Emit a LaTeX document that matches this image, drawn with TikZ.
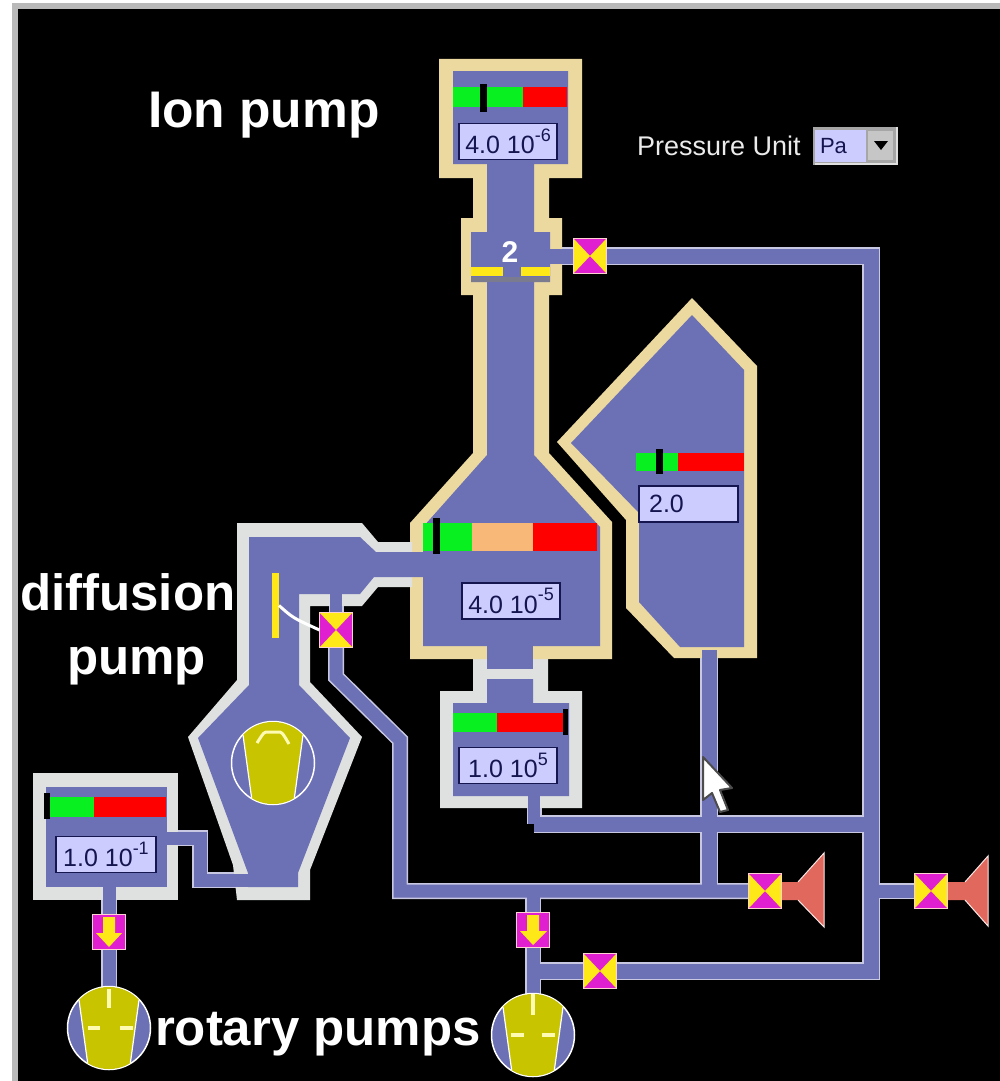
\documentclass[tikz,border=0pt]{standalone}
\usepackage{fontspec}
\setmainfont{Liberation Sans}
\pgfdeclarelayer{bg}
\pgfdeclarelayer{pedge}
\pgfdeclarelayer{chamber}
\pgfdeclarelayer{pcore}
\pgfsetlayers{bg,pedge,chamber,pcore,main}
\definecolor{vac}{HTML}{6C70B4}
\definecolor{tan}{HTML}{ECD9A0}
\definecolor{lite}{HTML}{DFE1E0}
\definecolor{pedgec}{HTML}{C8C8E2}
\definecolor{valbg}{HTML}{CCCCFF}
\definecolor{navy}{HTML}{15154F}
\definecolor{mag}{HTML}{E020D0}
\definecolor{yel}{HTML}{FFE818}
\definecolor{grn}{HTML}{08F020}
\definecolor{org}{HTML}{F8B878}
\definecolor{horn}{HTML}{E0685C}
\definecolor{rot}{HTML}{C8C400}
\newcommand{\pipe}[2]{%
  \begin{pgfonlayer}{pedge}\draw[pedgec,line width=#1pt+3pt] #2;\end{pgfonlayer}%
  \begin{pgfonlayer}{pcore}\draw[vac,line width=#1pt] #2;\end{pgfonlayer}}
\newcommand{\reading}[2]{{\fontsize{25}{25}\selectfont #1\raisebox{0.5em}{\fontsize{18}{18}\selectfont #2}}}
\newcommand{\rotor}[4]{% name, x, y, marks
  \node[rotorbody] (#1) at (#2,#3) {};
  \begin{scope}[shift={(#2,#3)}]
    \begin{scope}
      \clip (0,0) circle (41);
      \fill[rot] (-30,-45) -- (30,-45) -- (30,-28) -- (20,45) -- (-20,45) -- (-30,-28) -- cycle;
      \draw[white,line width=1.2pt] (-30,-28) -- (-20,45) (30,-28) -- (20,45);
    \end{scope}
    #4
  \end{scope}}
\tikzset{
  x=1pt,y=-1pt,
  every node/.style={inner sep=0pt,outer sep=0pt},
  valbox/.style={draw=navy,line width=1.6pt,fill=valbg,text=navy,minimum width=98pt,minimum height=36pt},
  bigtext/.style={text=white,font=\bfseries,anchor=base west},
  valvebase/.style={rectangle,minimum width=33pt,minimum height=35pt,draw=pink!70!white,line width=1.4pt,fill=mag},
  valvelr/.style={valvebase,path picture={
    \fill[yel] (path picture bounding box.north west) -- (path picture bounding box.center) -- (path picture bounding box.south west) -- cycle;
    \fill[yel] (path picture bounding box.north east) -- (path picture bounding box.center) -- (path picture bounding box.south east) -- cycle;}},
  valvetb/.style={valvebase,path picture={
    \fill[yel] (path picture bounding box.north west) -- (path picture bounding box.center) -- (path picture bounding box.north east) -- cycle;
    \fill[yel] (path picture bounding box.south west) -- (path picture bounding box.center) -- (path picture bounding box.south east) -- cycle;}},
  valvedown/.style={valvebase},
  rotorbody/.style={circle,minimum size=83pt,fill=vac,draw=white,line width=1.5pt},
  rotmark/.style={draw=white!70!yellow,line width=4.5pt},
}
\begin{document}
\begin{tikzpicture}
\useasboundingbox (0,0) rectangle (1000,1081);
\begin{pgfonlayer}{bg}
  \fill[white] (0,0) rectangle (1000,1081);
  \fill[black] (18,9) rectangle (1000,1081);
  \fill[gray!55] (12,3) rectangle (1000,9);
  \fill[gray!55] (12,3) rectangle (18,1081);
\end{pgfonlayer}

% ---------- chambers ----------
\begin{pgfonlayer}{chamber}
  \fill[lite] (473,655) -- (548,655) -- (548,691) -- (582,691) -- (582,808) -- (440,808) -- (440,691) -- (473,691) -- cycle;
  \fill[tan] (439,59) -- (582,59) -- (582,178) -- (549,178) -- (549,218) -- (562,218) -- (562,295) -- (549,295) -- (549,453) -- (612,522) -- (612,659) -- (410,659) -- (410,523) -- (473,453) -- (473,295) -- (461,295) -- (461,218) -- (473,218) -- (473,178) -- (439,178) -- cycle;
  \fill[vac] (453,71) -- (568,71) -- (568,164) -- (534,164) -- (534,232) -- (550,232) -- (550,282) -- (534,282) -- (534,455) -- (600,527) -- (600,646) -- (423,646) -- (423,527) -- (487,455) -- (487,282) -- (471,282) -- (471,232) -- (487,232) -- (487,164) -- (453,164) -- cycle;
  \fill[lite] (487,659) rectangle (533,679);
  \fill[vac] (487,646) rectangle (533,669);
  \fill[vac] (453,703) -- (487,703) -- (487,679) -- (533,679) -- (533,703) -- (569,703) -- (569,796) -- (453,796) -- cycle;
  \fill[vac] (471,265) rectangle (550,277);
  \fill[yel] (471,267) rectangle (503,276);
  \fill[yel] (521,267) rectangle (550,276);
  \fill[gray!70!vac] (471,277) rectangle (550,282);
  \fill[tan] (692,298) -- (757,366) -- (757,658) -- (674,658) -- (626,608) -- (626,520) -- (557,442) -- cycle;
  \fill[vac] (692,315) -- (744,370) -- (744,647) -- (680,647) -- (639,602) -- (639,513) -- (571,443) -- cycle;
  \fill[lite] (237,523) -- (362,523) -- (378,542) -- (412,542) -- (412,587) -- (378,587) -- (362,606) -- (310,606) -- (310,682) -- (362,737) -- (310,870) -- (310,900) -- (237,900) -- (233,865) -- (188,737) -- (237,680) -- cycle;
  \fill[vac] (249,537) -- (360,537) -- (376,552) -- (425,552) -- (425,577) -- (374,577) -- (360,594) -- (299,594) -- (299,685) -- (350,738) -- (298,873) -- (298,887) -- (248,887) -- (248,873) -- (198,738) -- (249,685) -- cycle;
  \fill[lite] (33,773) rectangle (178,900);
  \fill[vac] (46,787) rectangle (167,887);
\end{pgfonlayer}

% ---------- valves ----------
\node[valvelr] (vIon) at (590,256) {};
\node[valvetb] (vDiff) at (336,630) {};
\node[valvelr] (vRough) at (765,891) {};
\node[valvelr] (vVent) at (931,891) {};
\node[valvelr] (vBypass) at (600,971) {};
\node[valvedown] (vDownA) at (109,932) {};
\fill[yel] (103,917) -- (115,917) -- (115,933) -- (122,933) -- (109,947) -- (96,933) -- (103,933) -- cycle;
\node[valvedown] (vDownB) at (533,930) {};
\fill[yel] (527,915) -- (539,915) -- (539,931) -- (547,931) -- (533,945) -- (520,931) -- (527,931) -- cycle;

% ---------- pump rotors ----------
\rotor{rotDiff}{273}{763}{\draw[draw=white!70!yellow,line width=3pt] (-16,-20) .. controls (-9,-31) .. (-5,-31) -- (5,-31) .. controls (9,-31) .. (16,-19);}
\rotor{rotA}{109}{1028}{\draw[rotmark] (0,-39) -- (0,-20) (-21,0) -- (-9,0) (11,0) -- (24,0);}
\rotor{rotB}{533}{1035}{\draw[rotmark] (0,-41) -- (0,-20) (-22,0) -- (-9,0) (9,0) -- (22,0);}

% ---------- pipe ports and bends ----------
\coordinate (ionPort) at (548,256);
\coordinate (c1) at (871,256);
\coordinate (c2) at (871,971);
\coordinate (sidePort) at (709,650);
\coordinate (t1) at (709,891);
\coordinate (lowPort) at (534,792);
\coordinate (c3) at (534,824);
\coordinate (t2) at (871,824);
\coordinate (d1) at (336,677);
\coordinate (d2) at (400,740);
\coordinate (d3) at (400,891);
\coordinate (t3) at (533,891);
\coordinate (d4) at (336,590);
\coordinate (t4) at (871,891);
\coordinate (t5) at (533,971);
\coordinate (g1) at (165,838);
\coordinate (g2) at (200,838);
\coordinate (g3) at (200,880);
\coordinate (g4) at (250,880);
\coordinate (g5) at (109,885);

\pipe{15}{(ionPort) -- (vIon.center) -- (c1) -- (c2) -- (vBypass.center)}
\pipe{15}{(sidePort) -- (t1)}
\pipe{15}{(c3) -- (t2)}
\pipe{12}{(lowPort) -- (c3)}
\pipe{13}{(vDiff.center) -- (d1) -- (d2) -- (d3) -- (vRough.center)}
\pipe{12}{(d4) -- (vDiff.center)}
\pipe{13}{(t4) -- (vVent.center)}
\pipe{13}{(t3) -- (vDownB.center) -- (rotB.north)}
\pipe{15}{(t5) -- (vBypass.center)}
\pipe{13}{(g1) -- (g2) -- (g3) -- (g4)}
\pipe{13}{(g5) -- (vDownA.center) -- (rotA.north)}

% ---------- horns ----------
\fill[horn] (782,882) -- (798,882) -- (824,853) -- (824,927) -- (798,900) -- (782,900) -- cycle;
\draw[white!85!horn,line width=1pt] (798,882) -- (824,853) -- (824,927) -- (798,900);
\fill[horn] (948,882) -- (965,882) -- (988,856) -- (988,926) -- (965,900) -- (948,900) -- cycle;
\draw[white!85!horn,line width=1pt] (965,882) -- (988,856) -- (988,926) -- (965,900);

% ---------- meters ----------
\fill[grn] (453,87) rectangle (523,107);
\fill[red] (523,87) rectangle (567,107);
\fill[black] (480,84) rectangle (487,112);
\node[valbox] (valIon) at (508,141.5) {\reading{4.0 10}{-6}};
\fill[grn] (423,523) rectangle (472,551);
\fill[org] (472,523) rectangle (533,551);
\fill[red] (533,523) rectangle (597,551);
\fill[black] (433,518) rectangle (440,554);
\node[valbox] (valMain) at (511,601) {\reading{4.0 10}{-5}};
\fill[grn] (453,713) rectangle (497,732);
\fill[red] (497,713) rectangle (563,732);
\fill[black] (563,709) rectangle (568,735);
\node[valbox] (valRough) at (508,765.5) {\reading{1.0 10}{5}};
\fill[grn] (636,453) rectangle (678,471);
\fill[red] (678,453) rectangle (744,471);
\fill[black] (656,449) rectangle (663,474);
\node[valbox,minimum width=99pt] (valSide) at (688.5,504) {\hspace*{-44pt}\reading{2.0}{}};
\fill[grn] (48,797) rectangle (94,817);
\fill[red] (94,797) rectangle (166,817);
\fill[black] (44,793) rectangle (50,819);
\node[valbox,minimum width=100pt] (valFore) at (106,854.5) {\reading{1.0 10}{-1}};

% ---------- baffle ----------
\node[fill=yel,minimum width=7pt,minimum height=65pt] (baffle) at (275.5,605.5) {};
\draw[white,line width=3pt] (baffle.east) .. controls (293,618) .. (vDiff.west);
\node[text=white,font=\bfseries\fontsize{30}{30}\selectfont] (sect) at (510,252) {2};

% ---------- labels ----------
\node[bigtext,font=\bfseries\fontsize{51.5}{52}\selectfont] (lIon) at (148,127) {Ion pump};
\node[bigtext,font=\bfseries\fontsize{51}{51}\selectfont] (lDiff) at (20,610) {diffusion};
\node[bigtext,font=\bfseries\fontsize{51}{51}\selectfont] (lPump) at (67,674) {pump};
\node[bigtext,font=\bfseries\fontsize{51}{51}\selectfont] (lRot) at (155,1045) {rotary pumps};
\node[anchor=base west,text=white!92!black,font=\fontsize{27}{27}\selectfont] (lUnit) at (637,155) {Pressure Unit};

% ---------- drop-down ----------
\fill[gray!70] (813,127) rectangle (898,165);
\fill[white!88!black] (815,163) rectangle (898,165);
\fill[white!88!black] (896,127) rectangle (898,165);
\fill[valbg] (815,130) rectangle (866,162);
\fill[gray!45] (868,131) rectangle (893,160);
\fill[black] (874,141) -- (888,141) -- (881,150) -- cycle;
\node[anchor=base west,text=navy,font=\fontsize{22}{22}\selectfont] (lPa) at (820,153) {Pa};

% ---------- mouse cursor ----------
\draw[gray!60!black,fill=white,line width=2pt,line join=round]
  (703,757) -- (703,800) -- (712,793) -- (720,812) -- (728,810) -- (720,790) -- (732,788) -- cycle;
\end{tikzpicture}
\end{document}
